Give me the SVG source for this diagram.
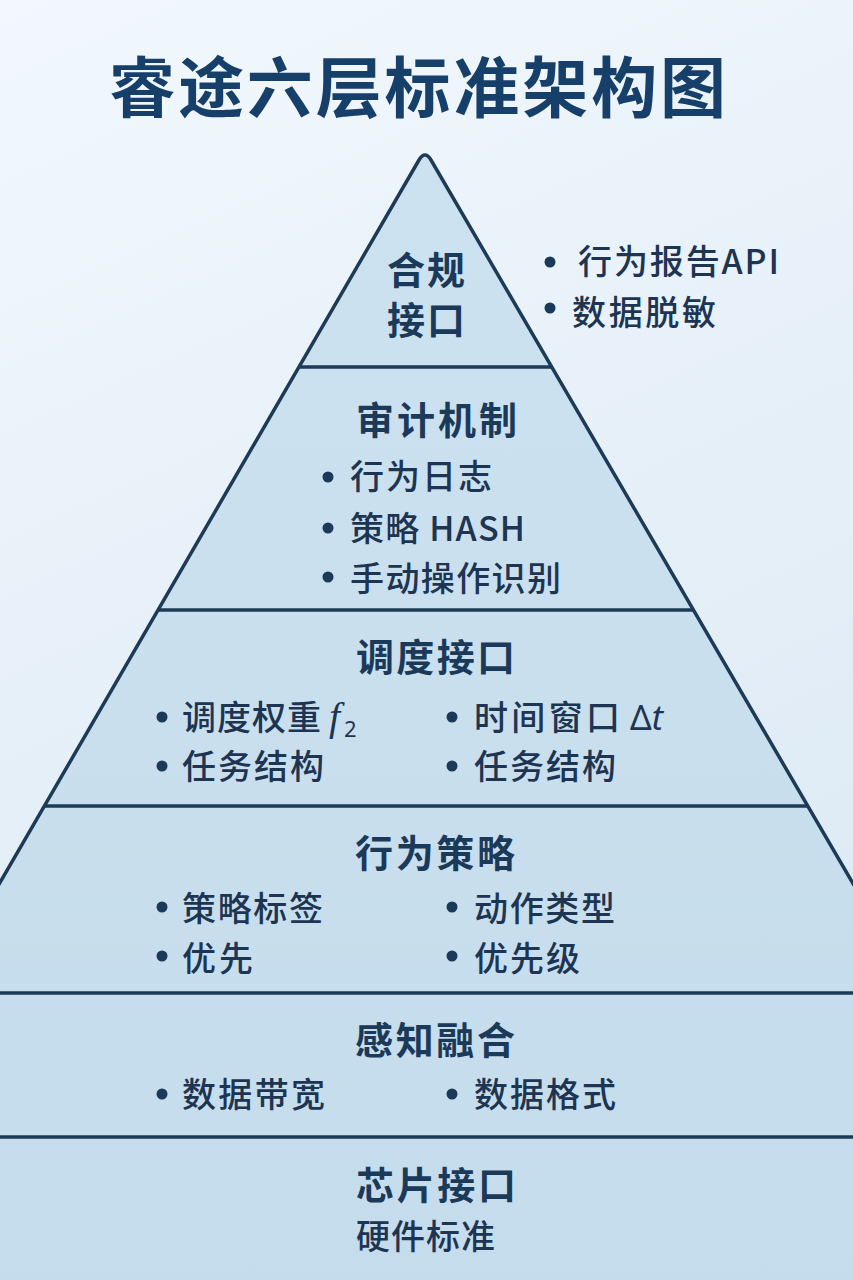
<svg xmlns="http://www.w3.org/2000/svg" width="853" height="1280" viewBox="0 0 853 1280">
  <defs>
    <linearGradient id="bg" x1="0" y1="0" x2="0.3" y2="1">
      <stop offset="0" stop-color="#f2f8fd"/>
      <stop offset="1" stop-color="#dce9f4"/>
    </linearGradient>
    <linearGradient id="pf" x1="0" y1="0" x2="0" y2="1">
      <stop offset="0" stop-color="#cde2f0"/>
      <stop offset="1" stop-color="#c5dcec"/>
    </linearGradient>
    <style>
      .t { font-family: "Noto Sans CJK SC", "Noto Sans", sans-serif; }
      .title { font-size: 66px; font-weight: 700; fill: #163f69; }
      .h { font-size: 38px; font-weight: 700; fill: #1b3a5a; }
      .b { font-size: 34px; font-weight: 500; fill: #1d3552; }
      .dot { fill: #1b3a5a; }
      .edge { fill: none; stroke: #1d3a56; stroke-width: 3.5; stroke-linejoin: round; }
      .div { stroke: #1d3a56; stroke-width: 3.5; }
    </style>
  </defs>

  <rect x="0" y="0" width="853" height="1280" fill="url(#bg)"/>

  <text class="t title" x="109" y="112" textLength="617" lengthAdjust="spacing">睿途六层标准架构图</text>

  <g id="pyramid">
    <path d="M0,1282 L0,883 L419,160 Q425,150 431,160 L853,883 L853,1282 Z" fill="url(#pf)"/>
    <path class="edge" d="M-2,886 L419,160 Q425,150 431,160 L855,887"/>
    <line class="div" x1="299" y1="367" x2="552" y2="367"/>
    <line class="div" x1="159" y1="610" x2="694" y2="610"/>
    <line class="div" x1="45" y1="806" x2="808" y2="806"/>
    <line class="div" x1="0" y1="993" x2="853" y2="993"/>
    <line class="div" x1="0" y1="1137" x2="853" y2="1137"/>
  </g>

  <g id="connectors"></g>

  <g id="layer-compliance">
    <text class="t h" x="387" y="284" font-size="39" textLength="78" lengthAdjust="spacing">合规</text>
    <text class="t h" x="387" y="334" font-size="39" textLength="78" lengthAdjust="spacing">接口</text>
    <circle class="dot" cx="550" cy="262" r="5.5"/>
    <text class="t b" x="578" y="274" textLength="201" lengthAdjust="spacing">行为报告API</text>
    <circle class="dot" cx="550" cy="308" r="5.5"/>
    <text class="t b" x="572" y="325" textLength="144" lengthAdjust="spacing">数据脱敏</text>
  </g>

  <g id="layer-audit">
    <text class="t h" x="356" y="434" textLength="161" lengthAdjust="spacing">审计机制</text>
    <circle class="dot" cx="328" cy="477" r="5.5"/>
    <text class="t b" x="350" y="489" textLength="142" lengthAdjust="spacing">行为日志</text>
    <circle class="dot" cx="328" cy="528" r="5.5"/>
    <text class="t b" x="350" y="541" textLength="175" lengthAdjust="spacing">策略 HASH</text>
    <circle class="dot" cx="328" cy="577" r="5.5"/>
    <text class="t b" x="350" y="591" textLength="211" lengthAdjust="spacing">手动操作识别</text>
  </g>

  <g id="layer-scheduling">
    <text class="t h" x="356" y="671" textLength="159" lengthAdjust="spacing">调度接口</text>
    <circle class="dot" cx="162" cy="717" r="5.5"/>
    <text class="t b" x="182" y="730" textLength="139" lengthAdjust="spacing">调度权重</text>
    <text x="329" y="730" font-family="Liberation Serif, serif" font-style="italic" font-size="40" fill="#1d3552">f</text>
    <text x="344" y="737" font-family="Noto Sans, sans-serif" font-size="22" fill="#1d3552">2</text>
    <circle class="dot" cx="452" cy="717" r="5.5"/>
    <text class="t b" x="474" y="730" textLength="146" lengthAdjust="spacing">时间窗口</text>
    <text x="630" y="730" font-family="Noto Sans, sans-serif" font-size="34" fill="#1d3552">Δ<tspan font-style="italic">t</tspan></text>
    <circle class="dot" cx="162" cy="766" r="5.5"/>
    <text class="t b" x="182" y="779" textLength="142" lengthAdjust="spacing">任务结构</text>
    <circle class="dot" cx="452" cy="766" r="5.5"/>
    <text class="t b" x="474" y="779" textLength="142" lengthAdjust="spacing">任务结构</text>
  </g>

  <g id="layer-behavior">
    <text class="t h" x="355" y="867" textLength="160" lengthAdjust="spacing">行为策略</text>
    <circle class="dot" cx="162" cy="907" r="5.5"/>
    <text class="t b" x="182" y="921" textLength="141" lengthAdjust="spacing">策略标签</text>
    <circle class="dot" cx="452" cy="907" r="5.5"/>
    <text class="t b" x="474" y="921" textLength="141" lengthAdjust="spacing">动作类型</text>
    <circle class="dot" cx="162" cy="956" r="5.5"/>
    <text class="t b" x="182" y="971" textLength="71" lengthAdjust="spacing">优先</text>
    <circle class="dot" cx="452" cy="956" r="5.5"/>
    <text class="t b" x="474" y="971" textLength="106" lengthAdjust="spacing">优先级</text>
  </g>

  <g id="layer-perception">
    <text class="t h" x="355" y="1054" textLength="160" lengthAdjust="spacing">感知融合</text>
    <circle class="dot" cx="162" cy="1094" r="5.5"/>
    <text class="t b" x="182" y="1107" textLength="143" lengthAdjust="spacing">数据带宽</text>
    <circle class="dot" cx="452" cy="1094" r="5.5"/>
    <text class="t b" x="474" y="1107" textLength="142" lengthAdjust="spacing">数据格式</text>
  </g>

  <g id="layer-chip">
    <text class="t h" x="356" y="1199" textLength="160" lengthAdjust="spacing">芯片接口</text>
    <text class="t b" x="356" y="1249" textLength="139" lengthAdjust="spacing">硬件标准</text>
  </g>
</svg>
